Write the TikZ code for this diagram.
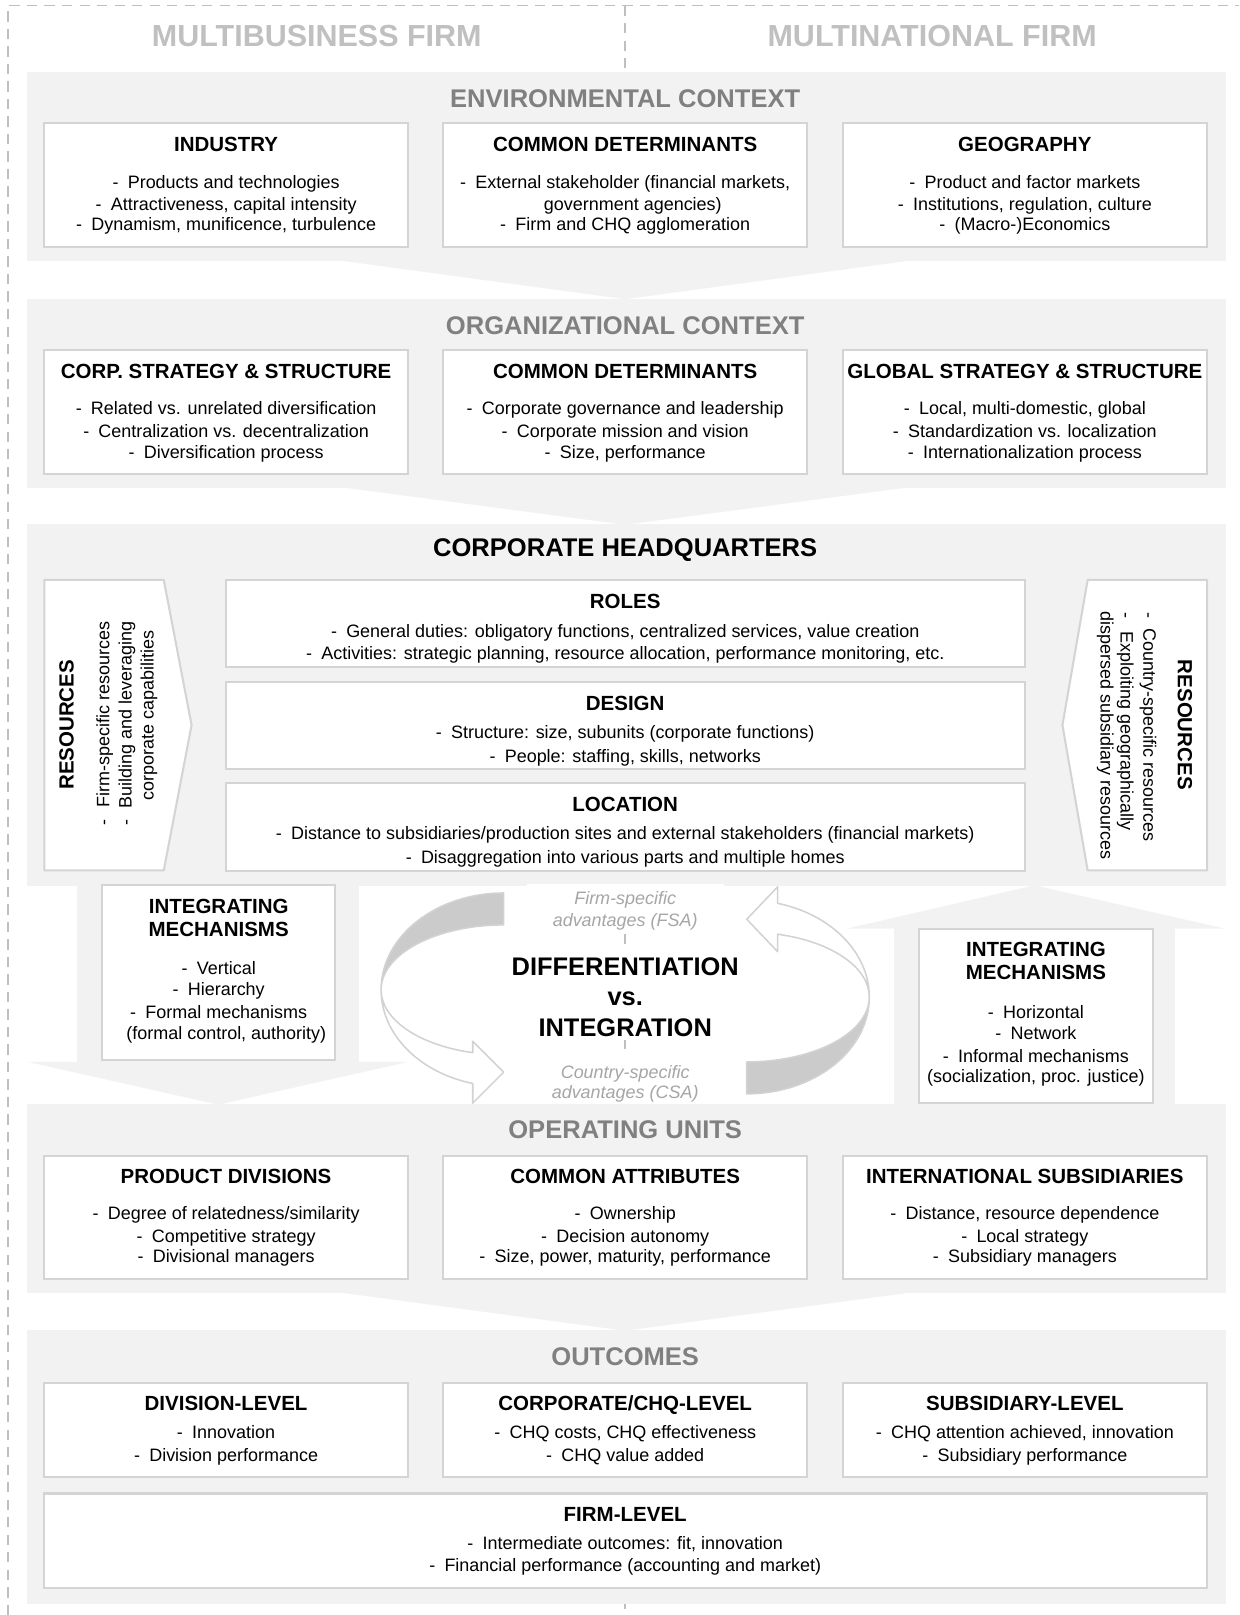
\documentclass[tikz,border=0pt]{standalone}
\usepackage{fontspec}
\setmainfont{Liberation Sans}
\definecolor{pgray}{HTML}{F2F2F2}
\definecolor{bline}{HTML}{D4D4D4}
\definecolor{secgray}{HTML}{808080}
\definecolor{topgray}{HTML}{C0C0C0}
\definecolor{dashgray}{HTML}{BFBFBF}
\definecolor{arrgray}{HTML}{CBCBCB}
\definecolor{arrline}{HTML}{D2D2D2}
\definecolor{itgray}{HTML}{A6A6A6}
\newcommand\tx[5]{\node[#2,anchor=base] (#1) at (#3,#4) {#5};}
\newcommand\wb[5]{\node[wbox,minimum width={(#4-#2)*1pt},minimum height={(#5-#3)*1pt}] (#1) at ({(#2+#4)/2},{(#3+#5)/2}) {};}
\newcommand\bul{-\hspace{9pt}}
\begin{document}
\begin{tikzpicture}[x=1pt,y=-1pt,
  wbox/.style={draw=bline,fill=white,line width=2pt,inner sep=0pt,outer sep=0pt},
  bd/.style={font=\fontsize{17.45}{20}\selectfont,inner sep=0pt},
  hd/.style={font=\bfseries\fontsize{19.9}{22}\selectfont,inner sep=0pt},
  sec/.style={font=\bfseries\fontsize{24.8}{28}\selectfont,text=secgray,inner sep=0pt},
  ttl/.style={font=\bfseries\fontsize{29.6}{34}\selectfont,text=topgray,inner sep=0pt},
  big/.style={font=\bfseries\fontsize{24.7}{28}\selectfont,inner sep=0pt},
  itl/.style={font=\itshape\fontsize{17.45}{20}\selectfont,text=itgray,inner sep=0pt},
  dsh/.style={draw=dashgray,line width=1.5pt,dash pattern=on 10pt off 7pt},
  panel/.style={fill=pgray},
  carrg/.style={fill=arrgray,draw=arrline,line width=1.5pt,line join=round},
  carrw/.style={fill=white,draw=arrline,line width=1.5pt,line join=round}]

\useasboundingbox (0,0) rectangle (1203,1568);

% dashed frame and centre line
\draw[dsh] (7.7,1568) -- (7.7,5.5) -- (1203,5.5);
\draw[dsh] (607,5.5) -- (607,1568);

% top titles
\tx{tmb}{ttl}{307.5}{45.5}{MULTIBUSINESS FIRM}
\tx{tmn}{ttl}{905}{45.5}{MULTINATIONAL FIRM}

% panels and chevrons
\fill[panel] (26,69.6) rectangle (1190,253.4);
\fill[panel] (323,252) -- (891,252) -- (607,290.5) -- cycle;
\fill[panel] (26,290) rectangle (1190,473.5);
\fill[panel] (323,472) -- (891,472) -- (607,509.5) -- cycle;
\fill[panel] (26,509) rectangle (1190,860.5);
\fill[panel] (26,1072) rectangle (1190,1255);
\fill[panel] (323,1254) -- (891,1254) -- (607,1292) -- cycle;
\fill[panel] (26,1291.5) rectangle (1190,1557.7);

% big arrows of the middle band
\fill[panel] (75,859) rectangle (348.5,1031.5);
\fill[panel] (27,1031) -- (396.5,1031) -- (211.75,1072.5) -- cycle;
\fill[panel] (867.5,901) rectangle (1141,1073);
\fill[panel] (822.5,901.5) -- (1189,901.5) -- (1004.25,859.5) -- cycle;

% ENVIRONMENTAL CONTEXT
\tx{envt}{sec}{607}{104.8}{ENVIRONMENTAL CONTEXT}
\wb{ind}{43}{119.8}{396}{240}
\wb{ecd}{430.5}{119.8}{783.5}{240}
\wb{geo}{818.5}{119.8}{1171.5}{240}
\tx{indh}{hd}{219.5}{147}{INDUSTRY}
\tx{ind1}{bd}{219.5}{182.6}{\bul Products and technologies}
\tx{ind2}{bd}{219.5}{204.3}{\bul Attractiveness, capital intensity}
\tx{ind3}{bd}{219.5}{224}{\bul Dynamism, munificence, turbulence}
\tx{ecdh}{hd}{607}{147}{COMMON DETERMINANTS}
\tx{ecd1}{bd}{607}{182.6}{\bul External stakeholder (financial markets,}
\tx{ecd2}{bd}{607}{204.3}{\phantom{\bul}government agencies)}
\tx{ecd3}{bd}{607}{224}{\bul Firm and CHQ agglomeration}
\tx{geoh}{hd}{995}{147}{GEOGRAPHY}
\tx{geo1}{bd}{995}{182.6}{\bul Product and factor markets}
\tx{geo2}{bd}{995}{204.3}{\bul Institutions, regulation, culture}
\tx{geo3}{bd}{995}{224}{\bul (Macro-)Economics}

% ORGANIZATIONAL CONTEXT
\tx{orgt}{sec}{607}{324.8}{ORGANIZATIONAL CONTEXT}
\wb{css}{43}{340}{396}{460}
\wb{ocd}{430.5}{340}{783.5}{460}
\wb{gss}{818.5}{340}{1171.5}{460}
\tx{cssh}{hd}{219.5}{367}{CORP. STRATEGY \& STRUCTURE}
\tx{css1}{bd}{219.5}{402.7}{\bul Related vs. unrelated diversification}
\tx{css2}{bd}{219.5}{425}{\bul Centralization vs. decentralization}
\tx{css3}{bd}{219.5}{444.8}{\bul Diversification process}
\tx{ocdh}{hd}{607}{367}{COMMON DETERMINANTS}
\tx{ocd1}{bd}{607}{402.7}{\bul Corporate governance and leadership}
\tx{ocd2}{bd}{607}{425}{\bul Corporate mission and vision}
\tx{ocd3}{bd}{607}{444.8}{\bul Size, performance}
\tx{gssh}{hd}{995}{367}{GLOBAL STRATEGY \& STRUCTURE}
\tx{gss1}{bd}{995}{402.7}{\bul Local, multi-domestic, global}
\tx{gss2}{bd}{995}{425}{\bul Standardization vs. localization}
\tx{gss3}{bd}{995}{444.8}{\bul Internationalization process}

% CORPORATE HEADQUARTERS
\tx{chqt}{sec,text=black}{607}{540.5}{CORPORATE HEADQUARTERS}
\filldraw[fill=white,draw=bline,line width=2pt,line join=round]
  (43,563) -- (159,563) -- (186,704) -- (159,845) -- (43,845) -- cycle;
\filldraw[fill=white,draw=bline,line width=2pt,line join=round]
  (1172,563) -- (1056,563) -- (1031.5,704) -- (1056,845) -- (1172,845) -- cycle;
\node[hd,rotate=90,anchor=base] (lres) at (71.5,703.7) {RESOURCES};
\node[bd,rotate=90,anchor=base] (lres1) at (106.2,694) {Firm-specific resources};
\node[bd,rotate=90,anchor=base] (lres2) at (127.7,694) {Building and leveraging};
\node[bd,rotate=90,anchor=base] (lres3) at (149.2,695) {corporate capabilities};
\node[bd,rotate=90,anchor=base] (lresd1) at (106.2,799) {-};
\node[bd,rotate=90,anchor=base] (lresd2) at (127.7,799) {-};
\node[hd,rotate=-90,anchor=base] (rres) at (1143.5,703.7) {RESOURCES};
\node[bd,rotate=-90,anchor=base] (rres1) at (1110,713.6) {Country-specific resources};
\node[bd,rotate=-90,anchor=base] (rres2) at (1088,710) {Exploiting geographically};
\node[bd,rotate=-90,anchor=base] (rres3) at (1068.5,714) {dispersed subsidiary resources};
\node[bd,rotate=-90,anchor=base] (rresd1) at (1110,597.5) {-};
\node[bd,rotate=-90,anchor=base] (rresd2) at (1088,597.5) {-};

\wb{roles}{219}{563}{995}{647.3}
\wb{design}{219}{661.8}{995}{747}
\wb{loc}{219}{760.5}{995}{845.7}
\tx{rolesh}{hd}{607}{591}{ROLES}
\tx{roles1}{bd}{607}{618.6}{\bul General duties: obligatory functions, centralized services, value creation}
\tx{roles2}{bd}{607}{640.5}{\bul Activities: strategic planning, resource allocation, performance monitoring, etc.}
\tx{designh}{hd}{607}{690}{DESIGN}
\tx{design1}{bd}{607}{717.2}{\bul Structure: size, subunits (corporate functions)}
\tx{design2}{bd}{607}{740.2}{\bul People: staffing, skills, networks}
\tx{loch}{hd}{607}{787.6}{LOCATION}
\tx{loc1}{bd}{607}{815.2}{\bul Distance to subsidiaries/production sites and external stakeholders (financial markets)}
\tx{loc2}{bd}{607}{837.9}{\bul Disaggregation into various parts and multiple homes}

% integrating mechanisms
\wb{iml}{99}{859.5}{325.6}{1029}
\tx{imlh1}{hd}{212.3}{887}{INTEGRATING}
\tx{imlh2}{hd}{212.3}{909}{MECHANISMS}
\tx{iml1}{bd}{212.3}{946.2}{\bul Vertical}
\tx{iml2}{bd}{212.3}{966.2}{\bul Hierarchy}
\tx{iml3}{bd}{212.3}{989.2}{\bul Formal mechanisms}
\tx{iml4}{bd}{212.3}{1009.2}{\phantom{\bul}(formal control, authority)}
\wb{imr}{892.5}{901.5}{1119}{1071}
\tx{imrh1}{hd}{1005.75}{928.6}{INTEGRATING}
\tx{imrh2}{hd}{1005.75}{950.5}{MECHANISMS}
\tx{imr1}{bd}{1005.75}{989.2}{\bul Horizontal}
\tx{imr2}{bd}{1005.75}{1008.8}{\bul Network}
\tx{imr3}{bd}{1005.75}{1031.2}{\bul Informal mechanisms}
\tx{imr4}{bd}{1005.75}{1051.2}{(socialization, proc. justice)}

% circular arrows
\filldraw[carrg] (489,867) arc[start angle=270,end angle=180,x radius=119,y radius=94]
  arc[start angle=180,end angle=270,x radius=119,y radius=63] -- cycle;
\filldraw[carrw] (370,961) arc[start angle=180,end angle=104.6,x radius=119,y radius=94]
  -- (459,1071) -- (489,1041) -- (459,1011) -- (459,1022)
  arc[start angle=104.6,end angle=180,x radius=119,y radius=63] -- cycle;
\filldraw[carrg] (725,1062) arc[start angle=90,end angle=0,x radius=119,y radius=94]
  arc[start angle=0,end angle=90,x radius=119,y radius=63] -- cycle;
\filldraw[carrw] (844,968) arc[start angle=0,end angle=-75.4,x radius=119,y radius=94]
  -- (755,861) -- (725,892.5) -- (755,924) -- (755,907)
  arc[start angle=-75.4,end angle=0,x radius=119,y radius=63] -- cycle;

% centre labels
\fill[white] (512,858) rectangle (703,904);
\fill[white] (495,921) rectangle (720,1010);
\fill[white] (512,1025) rectangle (703,1071);
\tx{fsa1}{itl}{607}{878.2}{Firm-specific}
\tx{fsa2}{itl}{607}{899.2}{advantages (FSA)}
\tx{dif}{big}{607}{947.5}{DIFFERENTIATION}
\tx{vs}{big}{607}{976}{vs.}
\tx{integ}{big}{607}{1006.5}{INTEGRATION}
\tx{csa1}{itl}{607}{1046.7}{Country-specific}
\tx{csa2}{itl}{607}{1066.2}{advantages (CSA)}

% OPERATING UNITS
\tx{opt}{sec}{607}{1105.8}{OPERATING UNITS}
\wb{pd}{43}{1122}{396}{1241.5}
\wb{ca}{430.5}{1122}{783.5}{1241.5}
\wb{is}{818.5}{1122}{1171.5}{1241.5}
\tx{pdh}{hd}{219.5}{1149}{PRODUCT DIVISIONS}
\tx{pd1}{bd}{219.5}{1184.2}{\bul Degree of relatedness/similarity}
\tx{pd2}{bd}{219.5}{1206.2}{\bul Competitive strategy}
\tx{pd3}{bd}{219.5}{1226.2}{\bul Divisional managers}
\tx{cah}{hd}{607}{1149}{COMMON ATTRIBUTES}
\tx{ca1}{bd}{607}{1184.2}{\bul Ownership}
\tx{ca2}{bd}{607}{1206.2}{\bul Decision autonomy}
\tx{ca3}{bd}{607}{1226.2}{\bul Size, power, maturity, performance}
\tx{ish}{hd}{995}{1149}{INTERNATIONAL SUBSIDIARIES}
\tx{is1}{bd}{995}{1184.2}{\bul Distance, resource dependence}
\tx{is2}{bd}{995}{1206.2}{\bul Local strategy}
\tx{is3}{bd}{995}{1226.2}{\bul Subsidiary managers}

% OUTCOMES
\tx{outt}{sec}{607}{1325.8}{OUTCOMES}
\wb{dl}{43}{1342.5}{396}{1433.7}
\wb{cl}{430.5}{1342.5}{783.5}{1433.7}
\wb{sl}{818.5}{1342.5}{1171.5}{1433.7}
\wb{fl}{43}{1450}{1171.5}{1541.5}
\tx{dlh}{hd}{219.5}{1369.5}{DIVISION-LEVEL}
\tx{dl1}{bd}{219.5}{1396.9}{\bul Innovation}
\tx{dl2}{bd}{219.5}{1419}{\bul Division performance}
\tx{clh}{hd}{607}{1369.5}{CORPORATE/CHQ-LEVEL}
\tx{cl1}{bd}{607}{1396.9}{\bul CHQ costs, CHQ effectiveness}
\tx{cl2}{bd}{607}{1419}{\bul CHQ value added}
\tx{slh}{hd}{995}{1369.5}{SUBSIDIARY-LEVEL}
\tx{sl1}{bd}{995}{1396.9}{\bul CHQ attention achieved, innovation}
\tx{sl2}{bd}{995}{1419}{\bul Subsidiary performance}
\tx{flh}{hd}{607}{1477}{FIRM-LEVEL}
\tx{fl1}{bd}{607}{1504.7}{\bul Intermediate outcomes: fit, innovation}
\tx{fl2}{bd}{607}{1526.2}{\bul Financial performance (accounting and market)}
\end{tikzpicture}
\end{document}
